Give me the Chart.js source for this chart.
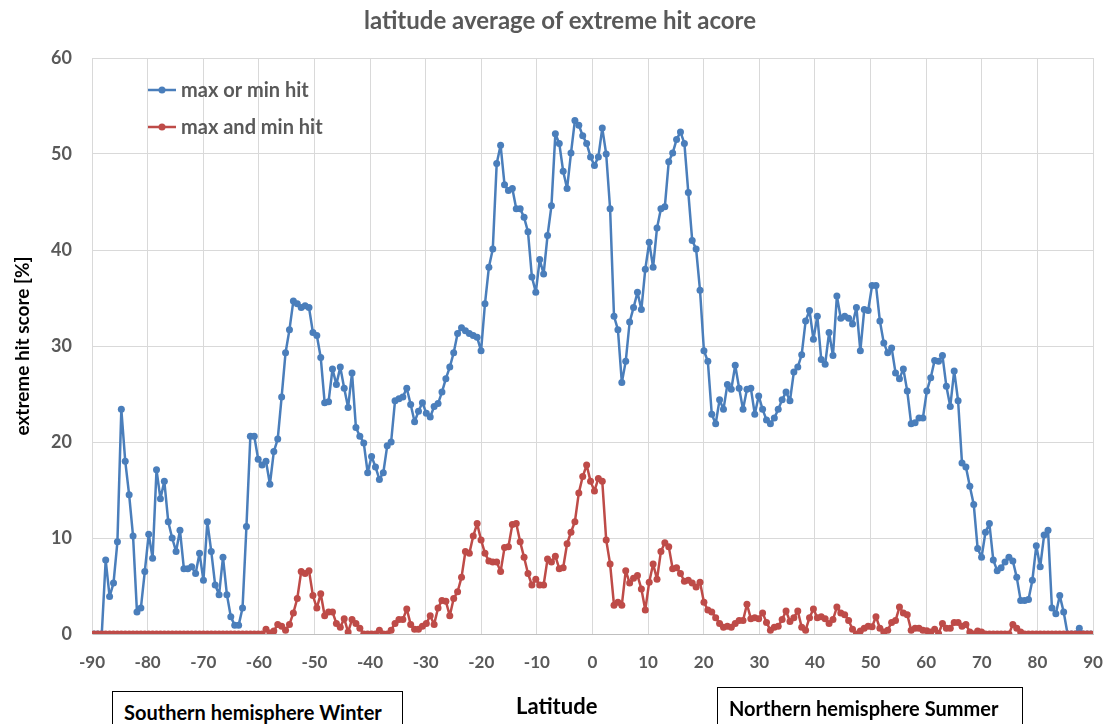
<!DOCTYPE html>
<html>
<head>
<meta charset="utf-8">
<script src="https://cdn.jsdelivr.net/npm/chart.js@4.4.1/dist/chart.umd.min.js"></script>
<style>
  html, body { margin: 0; padding: 0; background: #fff; }
  #wrap { position: relative; width: 1106px; height: 724px; overflow: hidden; }
  .note {
    position: absolute; box-sizing: border-box; border: 1px solid #000; background: #fff;
    font: bold 20px Lato, sans-serif; color: #000; white-space: nowrap; padding-left: 11px;
  }
  .axis-name {
    position: absolute; font: bold 22px Lato, sans-serif; color: #000; white-space: nowrap;
  }
  .chart-title {
    position: absolute; left: 260px; width: 600px; top: 5px; text-align: center;
    font: bold 24px Lato, sans-serif; line-height: 29px; color: #595959; white-space: nowrap;
  }
</style>
</head>
<body>
<div id="wrap">
  <canvas id="chart" width="1106" height="724"></canvas>
  <div class="chart-title">latitude average of extreme hit acore</div>
  <div class="note" style="left:112px; top:691px; width:291px; height:40px; padding-top:8px;">Southern hemisphere Winter</div>
  <div class="axis-name" style="left:516px; top:692px;">Latitude</div>
  <div class="note" style="left:717px; top:687px; width:306px; height:44px; padding-top:8px;">Northern hemisphere Summer</div>
</div>
<script>
// latitude grid of the zonal means (256 rows, ~0.703 deg apart)
const N_LAT = 256;
const LAT = Array.from({ length: N_LAT }, (_, i) => -90 + 180 / N_LAT * (i + 0.5));

// "max or min hit" [%], south -> north
const MAX_OR_MIN = [
  0, 0, 0, 7.7, 3.9, 5.3, 9.6, 23.4, 18.0, 14.5,
  10.2, 2.3, 2.7, 6.5, 10.4, 7.9, 17.1, 14.1, 15.9, 11.7,
  10.0, 8.6, 10.8, 6.8, 6.8, 7.0, 6.3, 8.4, 5.6, 11.7,
  8.6, 5.1, 4.1, 8.0, 4.1, 1.8, 0.9, 0.9, 2.7, 11.2,
  20.6, 20.6, 18.2, 17.6, 18.0, 15.6, 19.0, 20.3, 24.7, 29.3,
  31.7, 34.7, 34.4, 34.0, 34.2, 34.0, 31.4, 31.1, 28.8, 24.1,
  24.2, 27.6, 26.0, 27.8, 25.6, 23.6, 27.2, 21.5, 20.6, 19.9,
  16.8, 18.5, 17.4, 16.1, 16.8, 19.6, 20.0, 24.3, 24.5, 24.7,
  25.6, 23.9, 22.1, 23.2, 24.1, 23.0, 22.6, 23.7, 24.0, 25.2,
  26.6, 27.8, 29.3, 31.3, 31.9, 31.6, 31.3, 31.1, 30.9, 29.5,
  34.4, 38.2, 40.1, 49.0, 50.9, 46.8, 46.2, 46.4, 44.3, 44.3,
  43.4, 41.9, 37.2, 35.6, 39.0, 37.5, 41.5, 44.6, 52.1, 51.1,
  48.2, 46.4, 50.1, 53.5, 53.0, 51.9, 51.1, 49.7, 48.8, 49.7,
  52.7, 50.0, 44.3, 33.1, 31.7, 26.2, 28.4, 32.5, 34.0, 35.6,
  33.8, 38.0, 40.8, 38.2, 42.3, 44.3, 44.5, 49.2, 50.1, 51.5,
  52.3, 51.1, 46.0, 41.0, 40.1, 35.8, 29.5, 28.4, 22.9, 21.9,
  24.4, 23.4, 26.0, 25.5, 28.0, 25.6, 23.4, 25.5, 25.6, 22.9,
  24.8, 23.4, 22.3, 21.9, 22.5, 23.4, 24.4, 25.2, 24.3, 27.3,
  27.8, 29.1, 32.6, 33.7, 30.7, 33.1, 28.6, 28.1, 31.4, 29.0,
  35.2, 32.9, 33.1, 32.9, 32.3, 34.0, 29.5, 33.8, 33.7, 36.3,
  36.3, 32.6, 30.3, 29.3, 29.8, 27.2, 26.6, 27.6, 25.3, 21.9,
  22.0, 22.5, 22.5, 25.3, 26.7, 28.5, 28.4, 29.0, 25.8, 23.7,
  27.4, 24.3, 17.8, 17.4, 15.4, 13.5, 8.9, 8.0, 10.6, 11.5,
  7.7, 6.6, 6.9, 7.5, 8.0, 7.6, 5.9, 3.5, 3.5, 3.6,
  5.6, 9.2, 7.0, 10.3, 10.8, 2.7, 2.1, 4.0, 2.3, 0,
  0, 0, 0.6, 0, 0, 0
];

// "max and min hit" [%], south -> north
const MAX_AND_MIN = [
  0, 0, 0, 0, 0, 0, 0, 0, 0, 0,
  0, 0, 0, 0, 0, 0, 0, 0, 0, 0,
  0, 0, 0, 0, 0, 0, 0, 0, 0, 0,
  0, 0, 0, 0, 0, 0, 0, 0, 0, 0,
  0, 0, 0, 0, 0.5, 0.1, 0.3, 1.0, 0.8, 0.4,
  1.0, 2.2, 3.7, 6.5, 6.3, 6.6, 4.0, 2.7, 4.2, 1.9,
  2.3, 2.3, 1.1, 0.7, 1.6, 0.2, 1.5, 1.1, 0.6, 0,
  0, 0, 0, 0.4, 0, 0, 0.4, 1.1, 1.5, 1.5,
  2.6, 1.0, 0.5, 0.5, 0.8, 1.1, 1.9, 1.0, 2.7, 3.5,
  3.4, 1.9, 3.7, 4.4, 5.9, 8.6, 8.4, 10.2, 11.5, 9.8,
  8.4, 7.6, 7.5, 7.5, 6.5, 9.0, 9.1, 11.4, 11.5, 9.6,
  8.0, 6.3, 5.1, 5.7, 5.1, 5.1, 7.8, 7.5, 8.1, 6.8,
  6.9, 9.4, 10.6, 11.7, 14.7, 16.4, 17.6, 15.9, 14.9, 16.2,
  15.9, 9.8, 7.3, 3.0, 3.3, 3.0, 6.6, 5.3, 5.8, 6.1,
  4.7, 2.5, 5.4, 7.3, 5.7, 8.6, 9.5, 9.1, 6.8, 6.9,
  6.3, 5.5, 5.6, 5.3, 4.9, 5.4, 3.3, 2.5, 2.3, 1.7,
  1.1, 0.7, 0.8, 0.7, 1.1, 1.4, 1.4, 3.1, 1.6, 1.7,
  1.6, 2.2, 1.2, 0.4, 0.7, 0.8, 1.5, 2.4, 1.3, 1.7,
  2.4, 0.7, 0.4, 1.7, 2.6, 1.7, 1.8, 1.6, 1.1, 1.5,
  2.8, 2.2, 2.0, 1.4, 0.5, 0, 0.3, 0.6, 0.8, 0.75,
  1.8, 0.6, 0.2, 0.4, 1.2, 1.4, 2.8, 2.2, 2.0, 0.4,
  0.6, 0.6, 0.4, 0.35, 0.2, 0.5, 0.05, 1.1, 0.6, 0.6,
  1.2, 1.2, 0.8, 1.0, 0.2, 0, 0.3, 0.2, 0, 0,
  0, 0, 0, 0, 0, 1.0, 0.6, 0.2, 0, 0,
  0, 0, 0, 0, 0, 0, 0, 0, 0, 0,
  0, 0, 0, 0, 0, 0
];

const SERIES_NAMES = ["max or min hit", "max and min hit"];
const COLORS = { blue: "#4a7ebb", red: "#be4b48", grid: "#d9d9d9", text: "#595959" };
const FONT = "Lato, 'Open Sans', sans-serif";

function toPoints(values) {
  return values.map((v, i) => ({ x: LAT[i], y: v }));
}

function series(label, values, color, order) {
  return {
    label, data: toPoints(values), order,
    borderColor: color, backgroundColor: color,
    borderWidth: 2.5, tension: 0,
    borderJoinStyle: "round", borderCapStyle: "round",
    pointRadius: 3.5, pointBorderWidth: 0, pointBackgroundColor: color,
    pointHoverRadius: 3.5
  };
}

// legend drawn inside the plot area, top left (like the Excel original)
const innerLegend = {
  id: "innerLegend",
  afterDraw(chart) {
    const ctx = chart.ctx;
    const rows = [90, 127];
    ctx.save();
    chart.data.datasets.forEach((ds, k) => {
      const y = rows[k];
      ctx.strokeStyle = ds.borderColor;
      ctx.lineWidth = 2.5;
      ctx.beginPath();
      ctx.moveTo(148, y);
      ctx.lineTo(176, y);
      ctx.stroke();
      ctx.fillStyle = ds.borderColor;
      ctx.beginPath();
      ctx.arc(162, y, 3.5, 0, Math.PI * 2);
      ctx.fill();
      ctx.fillStyle = COLORS.text;
      ctx.font = "bold 20px " + FONT;
      ctx.textBaseline = "middle";
      ctx.fillText(ds.label, 181, y + 1);
    });
    ctx.restore();
  }
};

new Chart(document.getElementById("chart").getContext("2d"), {
  type: "line",
  data: {
    datasets: [
      series(SERIES_NAMES[0], MAX_OR_MIN, COLORS.blue, 1),
      series(SERIES_NAMES[1], MAX_AND_MIN, COLORS.red, 0)
    ]
  },
  options: {
    responsive: false,
    animation: false,
    devicePixelRatio: 1,
    layout: { padding: { left: 0, right: 13, top: 58, bottom: 0 } },
    plugins: {
      legend: { display: false },
      tooltip: { enabled: false },
      title: { display: false }
    },
    scales: {
      x: {
        type: "linear",
        min: -90, max: 90,
        afterFit(scale) {
          scale.height = 90;
          scale.paddingLeft = 0;
          scale.paddingRight = 0;
        },
        ticks: {
          stepSize: 10, padding: 18, color: COLORS.text,
          font: { family: FONT, size: 17, weight: "bold" }
        },
        grid: { color: COLORS.grid, drawTicks: false },
        border: { color: "#bfbfbf" }
      },
      y: {
        min: 0, max: 60,
        afterFit(scale) { scale.width = 92; },
        ticks: {
          stepSize: 10, padding: 20, color: COLORS.text,
          font: { family: FONT, size: 18, weight: "bold" }
        },
        grid: { color: COLORS.grid, drawTicks: false },
        border: { color: COLORS.grid },
        title: {
          display: true, text: "extreme hit score [%]", color: "#000",
          font: { family: FONT, size: 19, weight: "bold" },
          padding: { top: 11 }
        }
      }
    }
  },
  plugins: [innerLegend]
});
</script>
</body>
</html>
